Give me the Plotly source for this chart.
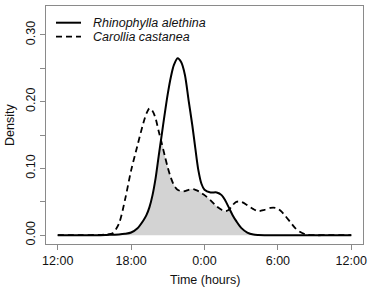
import plotly.graph_objects as go

# Time in hours (12 = noon, 24 = midnight, 36 = next noon)
hours = [12, 14, 15.5, 16, 16.5, 17, 17.5, 18, 18.5, 19, 19.25, 19.5, 19.75, 20,
         20.25, 20.5, 20.75, 21, 21.25, 21.5, 21.8, 22.1, 22.4, 22.7, 23, 23.25,
         23.5, 23.75, 24, 24.5, 25, 25.4, 25.7, 26, 26.3, 26.6, 27, 27.5, 28,
         28.4, 28.9, 29.4, 29.8, 30.2, 30.6, 31, 31.4, 31.8, 32.3, 33, 34, 36]

rhinophylla = [0, 0, 0, 0.0003, 0.0007, 0.001, 0.002, 0.004, 0.010, 0.022, 0.030,
               0.042, 0.060, 0.085, 0.118, 0.150, 0.182, 0.212, 0.237, 0.255,
               0.265, 0.259, 0.240, 0.202, 0.165, 0.130, 0.097, 0.077, 0.068,
               0.064, 0.064, 0.060, 0.052, 0.041, 0.030, 0.021, 0.011, 0.004,
               0.001, 0.0003, 0, 0, 0, 0, 0, 0, 0, 0, 0, 0, 0, 0]

carollia = [0, 0, 0.0005, 0.001, 0.003, 0.017, 0.053, 0.097, 0.133, 0.168, 0.182,
            0.190, 0.186, 0.175, 0.156, 0.138, 0.119, 0.101, 0.086, 0.075,
            0.068, 0.066, 0.066, 0.068, 0.069, 0.068, 0.066, 0.063, 0.060,
            0.052, 0.043, 0.038, 0.036, 0.038, 0.045, 0.050, 0.050, 0.045,
            0.039, 0.036, 0.038, 0.041, 0.041, 0.037, 0.029, 0.020, 0.011,
            0.005, 0.001, 0, 0, 0]

x_tickvals = [12, 18, 24, 30, 36]
x_ticktext = ["12:00", "18:00", "0:00", "6:00", "12:00"]
y_tickvals = [0, 0.05, 0.10, 0.15, 0.20, 0.25, 0.30]
y_ticktext = ["0.00", "", "0.10", "", "0.20", "", "0.30"]

names = ["Rhinophylla alethina", "Carollia castanea"]
x_title = "Time (hours)"
y_title = "Density"

overlap = [min(a, b) for a, b in zip(rhinophylla, carollia)]

FONT = "Liberation Sans, Arial, Helvetica, sans-serif"
GRAY = "#8a8a8a"
TXT = "#111111"

fig = go.Figure()
fig.add_trace(go.Scatter(x=hours, y=overlap, mode="lines", fill="tozeroy",
                         fillcolor="#d3d3d3", line=dict(width=0, shape="spline", smoothing=0.8),
                         showlegend=False, hoverinfo="skip"))
fig.add_trace(go.Scatter(x=hours, y=carollia, mode="lines", name=names[1],
                         line=dict(color="black", width=1.8, dash="6px,4px",
                                   shape="spline", smoothing=0.8),
                         showlegend=False))
fig.add_trace(go.Scatter(x=hours, y=rhinophylla, mode="lines", name=names[0],
                         line=dict(color="black", width=2, shape="spline", smoothing=0.8),
                         showlegend=False))

# plot-area pixel frame, for placing the R-style legend and titles
L, R_, T, B = 46, 363, 6, 244
def px(xp):
    return (xp - L) / (R_ - L)
def py(yp):
    return (B - yp) / (B - T)

fig.add_shape(type="line", xref="paper", yref="paper", x0=px(56), x1=px(81),
              y0=py(22.7), y1=py(22.7), line=dict(color="black", width=2))
fig.add_shape(type="line", xref="paper", yref="paper", x0=px(56), x1=px(81),
              y0=py(36.7), y1=py(36.7), line=dict(color="black", width=1.8, dash="6px,4px"))
for name, yy in zip(names, [22.7, 36.7]):
    fig.add_annotation(xref="paper", yref="paper", x=px(91), y=py(yy), text="<i>%s</i>" % name,
                       showarrow=False, xanchor="left", yanchor="middle",
                       font=dict(family=FONT, size=12.5, color=TXT))

fig.add_annotation(xref="paper", yref="paper", x=px(204.5), y=py(280), text=x_title,
                   showarrow=False, xanchor="center", yanchor="middle",
                   font=dict(family=FONT, size=12.5, color=TXT))
fig.add_annotation(xref="paper", yref="paper", x=px(10), y=py(125), text=y_title,
                   textangle=-90, showarrow=False, xanchor="center", yanchor="middle",
                   font=dict(family=FONT, size=12.5, color=TXT))

fig.update_layout(
    width=374, height=291,
    margin=dict(l=46, r=11, t=6, b=47),
    paper_bgcolor="white", plot_bgcolor="white",
    font=dict(family=FONT, size=12, color=TXT),
    showlegend=False,
)
fig.update_xaxes(range=[11.04, 36.96], tickvals=x_tickvals, ticktext=x_ticktext,
                 ticks="outside", ticklen=5, tickcolor=GRAY, tickwidth=1,
                 showgrid=False, zeroline=False, showline=True, mirror=True,
                 linecolor=GRAY, linewidth=1, automargin=False,
                 tickfont=dict(size=12.5))
fig.update_yaxes(range=[-0.0132, 0.3432], tickvals=y_tickvals, ticktext=y_ticktext,
                 ticks="outside", ticklen=5, tickcolor=GRAY, tickwidth=1, tickangle=-90,
                 showgrid=False, zeroline=False, showline=True, mirror=True,
                 linecolor=GRAY, linewidth=1, automargin=False,
                 tickfont=dict(size=12.5))

fig.write_html("out.html", config={"displayModeBar": False},
               post_script="document.body.style.margin='0';")
